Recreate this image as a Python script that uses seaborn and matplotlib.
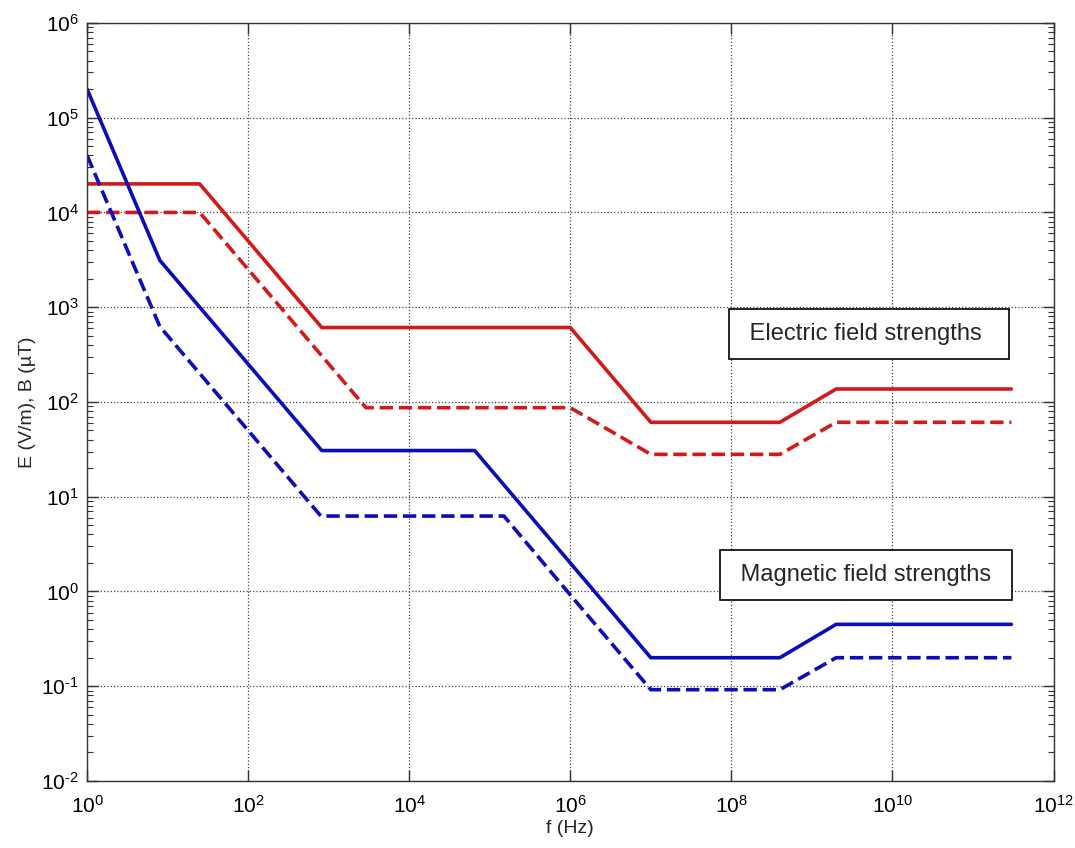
import numpy as np
import pandas as pd
import matplotlib
matplotlib.use("Agg")
import matplotlib.pyplot as plt
import matplotlib.ticker as mticker
import seaborn as sns

# breakpoints (f in Hz)
e_occ_f = [1, 25, 820, 1e6, 1e7, 4e8, 2e9, 3e11]
e_occ_v = [20000, 20000, 610, 610, 61, 61, 137, 137]

e_pub_f = [1, 25, 2.9e3, 1e6, 1e7, 4e8, 2e9, 3e11]
e_pub_v = [10000, 10000, 87, 87, 28, 28, 61, 61]

b_occ_f = [1, 8, 820, 6.5e4, 1e6, 1e7, 4e8, 2e9, 3e11]
b_occ_v = [200000, 3125, 30.7, 30.7, 2.0, 0.2, 0.2, 0.45, 0.45]

b_pub_f = [1, 8, 800, 1.5e5, 1e6, 1e7, 4e8, 2e9, 3e11]
b_pub_v = [40000, 625, 6.25, 6.25, 0.92, 0.092, 0.092, 0.2, 0.2]

red = "#d21a1a"
blue = "#0c0cb8"

sns.set_style("white")
plt.rcParams["font.family"] = ["Liberation Sans", "DejaVu Sans"]
plt.rcParams["mathtext.default"] = "regular"

fig = plt.figure(figsize=(10.75, 8.48), dpi=100)
ax = fig.add_axes([0.081, 0.079, 0.899, 0.894])

series = [
    (e_occ_f, e_occ_v, red, "-"),
    (e_pub_f, e_pub_v, red, "--"),
    (b_occ_f, b_occ_v, blue, "-"),
    (b_pub_f, b_pub_v, blue, "--"),
]
for f, v, c, ls in series:
    df = pd.DataFrame({"f": f, "v": v})
    sns.lineplot(data=df, x="f", y="v", color=c, linestyle=ls, linewidth=2.6,
                 ax=ax, sort=False, estimator=None)

ax.set_xscale("log")
ax.set_yscale("log")
ax.set_xlim(1, 1e12)
ax.set_ylim(1e-2, 1e6)


def pow_label(val, pos):
    k = int(round(np.log10(val)))
    return "10$^{%s}$" % ("\u2010" + str(-k) if k < 0 else str(k))


ax.xaxis.set_major_locator(mticker.FixedLocator([10.0**k for k in range(0, 13, 2)]))
ax.xaxis.set_minor_locator(mticker.NullLocator())
ax.yaxis.set_major_locator(mticker.FixedLocator([10.0**k for k in range(-2, 7)]))
ax.yaxis.set_minor_locator(mticker.LogLocator(base=10, subs=np.arange(2, 10)))
ax.xaxis.set_major_formatter(mticker.FuncFormatter(pow_label))
ax.yaxis.set_major_formatter(mticker.FuncFormatter(pow_label))

ax.tick_params(which="both", direction="in", top=True, right=True, left=True,
               bottom=True, colors="#333333", labelcolor="black")
ax.tick_params(which="major", length=8, width=1, labelsize=15)
ax.tick_params(which="minor", length=4, width=0.8)
ax.tick_params(axis="x", pad=10)
ax.tick_params(axis="y", pad=6)

ax.grid(True, which="major", linestyle=":", color="#444444", linewidth=0.9)
for s in ax.spines.values():
    s.set_color("#333333")
    s.set_linewidth(1.0)

ax.set_xlabel("f (Hz)", fontsize=14, labelpad=2)
ax.set_ylabel("E (V/m), B (\u00b5T)", fontsize=14, labelpad=4)

box = dict(boxstyle="square,pad=0.6", facecolor="white", edgecolor="black", linewidth=1.2)
ax.text(0.809, 0.590, " Electric field strengths  ", transform=ax.transAxes,
        ha="center", va="center", fontsize=17, bbox=box, zorder=5)
ax.text(0.806, 0.272, " Magnetic field strengths ", transform=ax.transAxes,
        ha="center", va="center", fontsize=17, bbox=box, zorder=5)

fig.savefig("out.png", dpi=100)
